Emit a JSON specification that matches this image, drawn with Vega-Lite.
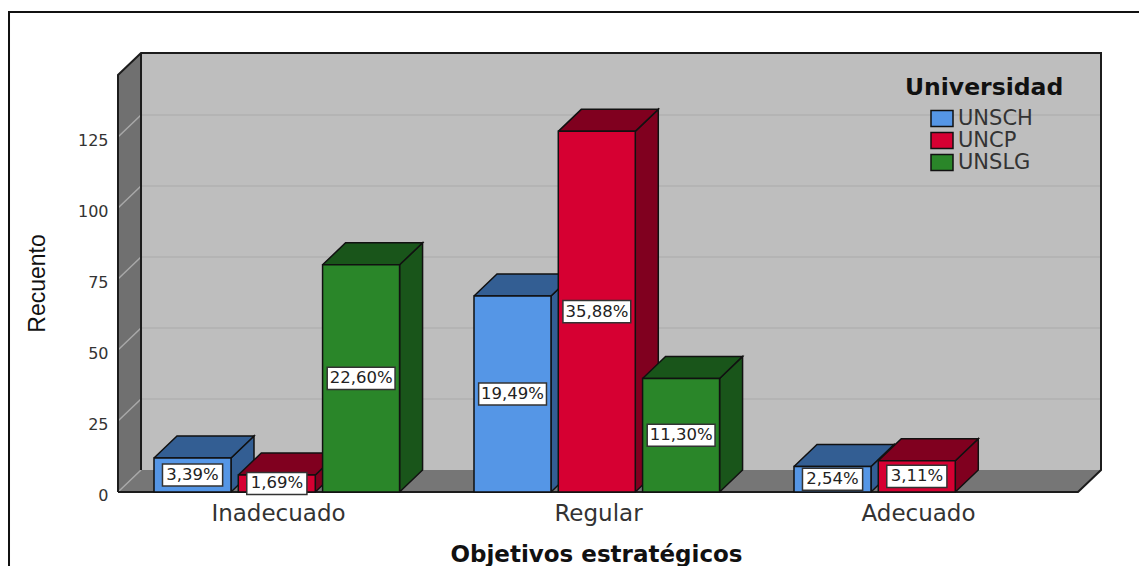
{
  "$schema": "https://vega.github.io/schema/vega-lite/v6.json",
  "autosize": "none",
  "width": 983,
  "height": 439,
  "padding": {"left": 118, "top": 53, "right": 38, "bottom": 74},
  "background": "white",
  "config": {"view": {"stroke": null}},
  "datasets": {
    "conteos": [
      {"objetivo": "Inadecuado", "universidad": "UNSCH", "recuento": 12, "porcentaje": "3,39%"},
      {"objetivo": "Inadecuado", "universidad": "UNCP", "recuento": 6, "porcentaje": "1,69%"},
      {"objetivo": "Inadecuado", "universidad": "UNSLG", "recuento": 80, "porcentaje": "22,60%"},
      {"objetivo": "Regular", "universidad": "UNSCH", "recuento": 69, "porcentaje": "19,49%"},
      {"objetivo": "Regular", "universidad": "UNCP", "recuento": 127, "porcentaje": "35,88%"},
      {"objetivo": "Regular", "universidad": "UNSLG", "recuento": 40, "porcentaje": "11,30%"},
      {"objetivo": "Adecuado", "universidad": "UNSCH", "recuento": 9, "porcentaje": "2,54%"},
      {"objetivo": "Adecuado", "universidad": "UNCP", "recuento": 11, "porcentaje": "3,11%"}
    ],
    "paredes": [
      {"pared": "izquierda", "k": 0, "x": 0, "y": 0},
      {"pared": "izquierda", "k": 1, "x": 0.0719, "y": 7.75},
      {"pared": "izquierda", "k": 2, "x": 0.0719, "y": 154.6},
      {"pared": "izquierda", "k": 3, "x": 0, "y": 146.85},
      {"pared": "suelo", "k": 0, "x": 0, "y": 0},
      {"pared": "suelo", "k": 1, "x": 3, "y": 0},
      {"pared": "suelo", "k": 2, "x": 3.0719, "y": 7.75},
      {"pared": "suelo", "k": 3, "x": 0.0719, "y": 7.75},
      {"pared": "fondo", "k": 0, "x": 0.0719, "y": 7.75},
      {"pared": "fondo", "k": 1, "x": 3.0719, "y": 7.75},
      {"pared": "fondo", "k": 2, "x": 3.0719, "y": 154.6},
      {"pared": "fondo", "k": 3, "x": 0.0719, "y": 154.6}
    ],
    "aristas": [
      {"tramo": "contorno", "k": 0, "x": 0, "y": 0},
      {"tramo": "contorno", "k": 1, "x": 0, "y": 146.85},
      {"tramo": "contorno", "k": 2, "x": 0.0719, "y": 154.6},
      {"tramo": "contorno", "k": 3, "x": 3.0719, "y": 154.6},
      {"tramo": "contorno", "k": 4, "x": 3.0719, "y": 7.75},
      {"tramo": "contorno", "k": 5, "x": 3, "y": 0},
      {"tramo": "contorno", "k": 6, "x": 0, "y": 0},
      {"tramo": "esquina", "k": 0, "x": 0.0719, "y": 154.6},
      {"tramo": "esquina", "k": 1, "x": 0.0719, "y": 7.75}
    ],
    "marco": [
      {"k": 0, "x": -0.3406, "y": -30},
      {"k": 1, "x": -0.3406, "y": 169},
      {"k": 2, "x": 3.2, "y": 169}
    ],
    "rejilla": [
      {"recuento": 0, "a": 0, "b": 0.0719, "c": 3.0719},
      {"recuento": 25, "a": 0, "b": 0.0719, "c": 3.0719},
      {"recuento": 50, "a": 0, "b": 0.0719, "c": 3.0719},
      {"recuento": 75, "a": 0, "b": 0.0719, "c": 3.0719},
      {"recuento": 100, "a": 0, "b": 0.0719, "c": 3.0719},
      {"recuento": 125, "a": 0, "b": 0.0719, "c": 3.0719}
    ]
  },
  "layer": [
    {
      "data": {"name": "marco"},
      "mark": {"type": "line", "stroke": "#111111", "strokeWidth": 2},
      "encoding": {
        "x": {
          "field": "x", "type": "quantitative",
          "scale": {"domain": [0, 3.0719], "nice": false, "zero": false},
          "axis": {
            "title": "Objetivos estratégicos",
            "titleFont": "DejaVu Sans", "titleFontSize": 23, "titleFontWeight": "bold", "titleColor": "#111111",
            "titleX": 478, "titleY": 69, "titleBaseline": "alphabetic",
            "values": [0.5, 1.5, 2.5],
            "labelExpr": "['Inadecuado','Regular','Adecuado'][floor(datum.value)]",
            "labelFont": "DejaVu Sans", "labelFontSize": 23, "labelColor": "#333333", "labelPadding": 10,
            "domain": false, "ticks": false, "grid": false
          }
        },
        "y": {
          "field": "y", "type": "quantitative",
          "scale": {"domain": [0, 154.6], "nice": false, "zero": false},
          "axis": {
            "title": "Recuento",
            "titleFont": "Liberation Sans", "titleFontSize": 23, "titleFontWeight": "normal", "titleColor": "#111111",
            "titleX": -74, "titleY": 230, "titleAngle": -90, "titleAlign": "center", "titleBaseline": "alphabetic",
            "values": [0, 25, 50, 75, 100, 125],
            "labelFont": "DejaVu Sans", "labelFontSize": 16, "labelColor": "#333333", "labelPadding": 10, "labelBaseline": "middle", "labelOffset": 3,
            "domain": false, "ticks": false, "grid": false
          }
        },
        "order": {"field": "k"}
      }
    },
    {
      "data": {"name": "paredes"},
      "mark": {"type": "line", "filled": true, "strokeWidth": 0},
      "encoding": {
        "x": {"field": "x", "type": "quantitative"},
        "y": {"field": "y", "type": "quantitative"},
        "order": {"field": "k"},
        "fill": {
          "field": "pared", "type": "nominal", "legend": null,
          "scale": {"domain": ["izquierda", "suelo", "fondo"], "range": ["#707070", "#767676", "#bebebe"]}
        }
      }
    },
    {
      "data": {"name": "rejilla"},
      "transform": [
        {"filter": "datum.recuento > 0"},
        {"calculate": "datum.recuento + 7.75", "as": "alto"}
      ],
      "mark": {"type": "rule", "stroke": "#b4b4b4", "strokeWidth": 2},
      "encoding": {
        "x": {"field": "b", "type": "quantitative"},
        "x2": {"field": "c"},
        "y": {"field": "alto", "type": "quantitative"}
      }
    },
    {
      "data": {"name": "rejilla"},
      "transform": [{"calculate": "datum.recuento + 7.75", "as": "alto"}],
      "mark": {"type": "rule", "stroke": "#a8a8a8", "strokeWidth": 1.5},
      "encoding": {
        "x": {"field": "a", "type": "quantitative"},
        "x2": {"field": "b"},
        "y": {"field": "recuento", "type": "quantitative"},
        "y2": {"field": "alto"}
      }
    },
    {
      "data": {"name": "aristas"},
      "mark": {"type": "line", "stroke": "#1c1c1c", "strokeWidth": 2},
      "encoding": {
        "x": {"field": "x", "type": "quantitative"},
        "y": {"field": "y", "type": "quantitative"},
        "order": {"field": "k"},
        "detail": {"field": "tramo"}
      }
    },
    {
      "data": {"name": "conteos"},
      "transform": [
        {"calculate": "indexof(['Inadecuado','Regular','Adecuado'], datum.objetivo)", "as": "g"},
        {"calculate": "indexof(['UNSCH','UNCP','UNSLG'], datum.universidad)", "as": "s"},
        {"calculate": "datum.g + 0.1125 + datum.s * 0.2634", "as": "x0"},
        {"calculate": "datum.x0 + 0.2406", "as": "x1"},
        {"calculate": "['lateral','superior']", "as": "cara"},
        {"flatten": ["cara"]},
        {"calculate": "[0,1,2,3,4]", "as": "k"},
        {"flatten": ["k"]},
        {"calculate": "datum.g * 10 + datum.s + (datum.cara === 'lateral' ? 0 : 0.5)", "as": "id"},
        {"calculate": "datum.cara === 'lateral' ? [datum.x1, datum.x1 + 0.0719, datum.x1 + 0.0719, datum.x1, datum.x1][datum.k] : [datum.x0, datum.x1, datum.x1 + 0.0719, datum.x0 + 0.0719, datum.x0][datum.k]", "as": "px"},
        {"calculate": "datum.cara === 'lateral' ? [0, 7.75, datum.recuento + 7.75, datum.recuento, 0][datum.k] : [datum.recuento, datum.recuento, datum.recuento + 7.75, datum.recuento + 7.75, datum.recuento][datum.k]", "as": "py"}
      ],
      "mark": {"type": "line", "filled": true, "stroke": "#111111", "strokeWidth": 1.5, "strokeJoin": "miter"},
      "encoding": {
        "x": {"field": "px", "type": "quantitative"},
        "y": {"field": "py", "type": "quantitative"},
        "order": {"field": "k"},
        "detail": {"field": "id"},
        "fill": {
          "field": "universidad", "type": "nominal", "legend": null,
          "scale": {"domain": ["UNSCH", "UNCP", "UNSLG"], "range": ["#335E93", "#80001F", "#19551A"]}
        }
      }
    },
    {
      "data": {"name": "conteos"},
      "transform": [
        {"calculate": "indexof(['Inadecuado','Regular','Adecuado'], datum.objetivo)", "as": "g"},
        {"calculate": "indexof(['UNSCH','UNCP','UNSLG'], datum.universidad)", "as": "s"},
        {"calculate": "datum.g + 0.1125 + datum.s * 0.2634", "as": "x0"},
        {"calculate": "datum.x0 + 0.2406", "as": "x1"},
        {"calculate": "0", "as": "base"}
      ],
      "mark": {"type": "rect", "stroke": "#111111", "strokeWidth": 1.5},
      "encoding": {
        "x": {"field": "x0", "type": "quantitative"},
        "x2": {"field": "x1"},
        "y": {"field": "base", "type": "quantitative"},
        "y2": {"field": "recuento"},
        "fill": {
          "field": "universidad", "type": "nominal",
          "scale": {"domain": ["UNSCH", "UNCP", "UNSLG"], "range": ["#5596E6", "#D60032", "#2A8629"]},
          "legend": {
            "orient": "none", "legendX": 787, "legendY": 23,
            "title": "Universidad",
            "titleFont": "DejaVu Sans", "titleFontSize": 23.5, "titleFontWeight": "bold", "titleColor": "#111111", "titlePadding": 8,
            "labelFont": "DejaVu Sans", "labelFontSize": 21, "labelColor": "#333333", "labelOffset": 5,
            "symbolType": "M-1.1,-0.8L1.1,-0.8L1.1,0.8L-1.1,0.8Z", "symbolSize": 400, "symbolOffset": 26,
            "symbolStrokeColor": "#111111", "symbolStrokeWidth": 1.5, "rowPadding": 0, "padding": 0
          }
        }
      }
    },
    {
      "data": {"name": "conteos"},
      "transform": [
        {"calculate": "indexof(['Inadecuado','Regular','Adecuado'], datum.objetivo)", "as": "g"},
        {"calculate": "indexof(['UNSCH','UNCP','UNSLG'], datum.universidad)", "as": "s"},
        {"calculate": "datum.g + 0.233 + datum.s * 0.2634", "as": "cx"},
        {"calculate": "length(datum.porcentaje) > 5 ? 0.106 : 0.094", "as": "semiancho"},
        {"calculate": "datum.cx - datum.semiancho", "as": "bx0"},
        {"calculate": "datum.cx + datum.semiancho", "as": "bx1"},
        {"calculate": "datum.recuento / 2 - 3.9", "as": "by0"},
        {"calculate": "datum.recuento / 2 + 3.9", "as": "by1"}
      ],
      "mark": {"type": "rect", "fill": "white", "stroke": "#333333", "strokeWidth": 1.5},
      "encoding": {
        "x": {"field": "bx0", "type": "quantitative"},
        "x2": {"field": "bx1"},
        "y": {"field": "by0", "type": "quantitative"},
        "y2": {"field": "by1"}
      }
    },
    {
      "data": {"name": "conteos"},
      "transform": [
        {"calculate": "indexof(['Inadecuado','Regular','Adecuado'], datum.objetivo)", "as": "g"},
        {"calculate": "indexof(['UNSCH','UNCP','UNSLG'], datum.universidad)", "as": "s"},
        {"calculate": "datum.g + 0.233 + datum.s * 0.2634", "as": "cx"},
        {"calculate": "datum.recuento / 2", "as": "cy"}
      ],
      "mark": {"type": "text", "font": "DejaVu Sans", "fontSize": 16.5, "fill": "#222222", "align": "center", "baseline": "middle"},
      "encoding": {
        "x": {"field": "cx", "type": "quantitative"},
        "y": {"field": "cy", "type": "quantitative"},
        "text": {"field": "porcentaje"}
      }
    }
  ],
  "resolve": {"scale": {"fill": "independent"}}
}
